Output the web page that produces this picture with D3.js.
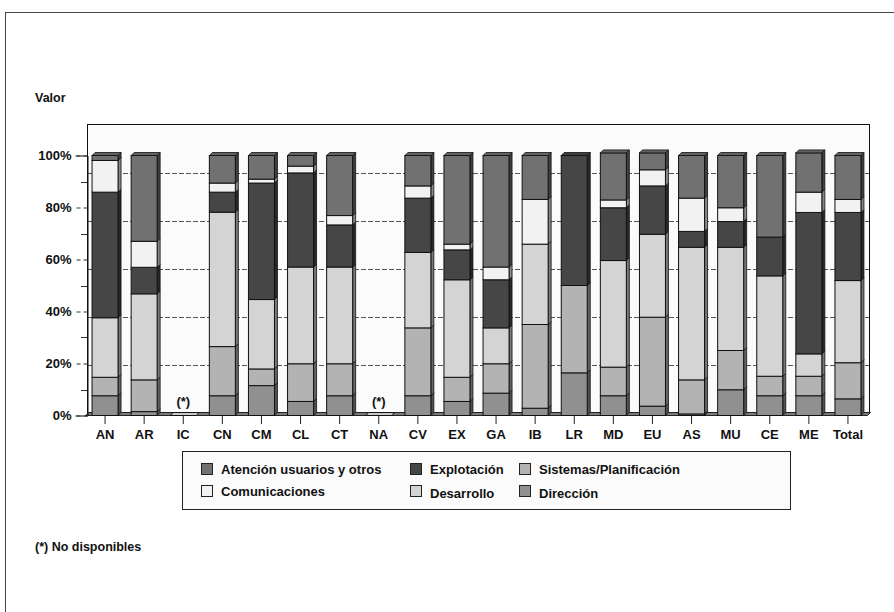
<!DOCTYPE html>
<html>
<head>
<meta charset="utf-8">
<script src="https://cdn.jsdelivr.net/npm/d3@7"></script>
<style>
  body { margin: 0; background: #fff; }
  text { font-family: "Liberation Sans", Arial, sans-serif; font-weight: bold; fill: #111; }
</style>
</head>
<body>
<div id="chart"></div>
<script>
// Stacked 3D-style columns: distribution by area (percent) per region

const categories = ["AN", "AR", "IC", "CN", "CM", "CL", "CT", "NA", "CV", "EX",
                    "GA", "IB", "LR", "MD", "EU", "AS", "MU", "CE", "ME", "Total"];

// stack order from bottom to top
const seriesNames = ["Dirección", "Sistemas/Planificación", "Desarrollo",
                     "Explotación", "Comunicaciones", "Atención usuarios y otros"];

// values in % (null = no disponible)
const direccion      = [7.6, 1.5, null, 7.6, 11.5, 5.4, 7.6, null, 7.6, 5.4, 8.6, 2.8, 16.4, 7.6, 3.6, 0.6, 9.9, 7.6, 7.6, 6.4];
const sistemas       = [7.1, 12.2, null, 18.9, 6.4, 14.5, 12.3, null, 26.1, 9.3, 11.3, 32.2, 33.6, 11, 34.2, 13.1, 15.1, 7.5, 7.5, 13.9];
const desarrollo     = [22.9, 33.1, null, 51.7, 26.7, 37.2, 37.2, null, 29, 37.5, 13.8, 30.9, 0, 41, 31.9, 51, 39.7, 38.6, 8.6, 31.6];
const explotacion    = [48.3, 10.2, null, 7.7, 44.8, 36.2, 16.2, null, 20.9, 11.5, 18.5, 0, 50, 20.3, 18.6, 6.1, 9.9, 14.9, 54.4, 26.2];
const comunicaciones = [12.2, 10, null, 3.5, 1.5, 2.6, 3.6, null, 4.7, 2.2, 4.9, 17.2, 0, 3, 6.2, 12.8, 5.3, 0, 7.8, 5];
const atencion       = [1.9, 33, null, 10.6, 9.1, 4.1, 23.1, null, 11.7, 34.1, 42.9, 16.9, 0, 18.1, 6.5, 16.4, 20.1, 31.4, 15.1, 16.9];

const yTicks = [0, 20, 40, 60, 80, 100];
const yMinorTicks = [10, 30, 50, 70, 90];
const gridValues = [20, 40, 60, 80, 100];

// legend layout order (row by row)
const legendOrder = ["Atención usuarios y otros", "Explotación", "Sistemas/Planificación",
                     "Comunicaciones", "Desarrollo", "Dirección"];

const colors = {
  "Dirección": "#909090",
  "Sistemas/Planificación": "#b3b3b3",
  "Desarrollo": "#d4d4d4",
  "Explotación": "#464646",
  "Comunicaciones": "#f2f2f2",
  "Atención usuarios y otros": "#717171"
};

const seriesValues = [direccion, sistemas, desarrollo, explotacion, comunicaciones, atencion];

const W = 894, H = 612;
const depth = 3;

const svg = d3.select("#chart").append("svg")
  .attr("width", W).attr("height", H);

// outer border
svg.append("rect")
  .attr("x", 5.5).attr("y", 12.5).attr("width", 900).attr("height", 620)
  .attr("fill", "#fff").attr("stroke", "#444");

// scales
const x = d3.scaleBand()
  .domain(categories)
  .range([85.5, 867.5])
  .paddingInner(0.335)
  .paddingOuter(0.1675);

const y = d3.scaleLinear().domain([0, 100]).range([415.5, 155.5]);
// back wall scale for the dashed grid
const yWall = d3.scaleLinear().domain([0, 100]).range([413.5, 172.5]);

// plot frame
svg.append("rect")
  .attr("x", 87.5).attr("y", 124.5)
  .attr("width", 782).attr("height", 289)
  .attr("fill", "#fbfbfb").attr("stroke", "#111");

// dashed grid on back wall
svg.append("g").selectAll("line")
  .data(gridValues)
  .enter().append("line")
  .attr("x1", 88).attr("x2", 869)
  .attr("y1", d => Math.round(yWall(d)) + 0.5)
  .attr("y2", d => Math.round(yWall(d)) + 0.5)
  .attr("stroke", "#555")
  .attr("stroke-dasharray", "5,2");

// floor strip
svg.append("path")
  .attr("d", `M85.5,415.5 L867.5,415.5 L870.5,412.5 L88.5,412.5 Z`)
  .attr("fill", "#7a7a7a").attr("stroke", "#222");

// y axis
const yAxis = svg.append("g")
  .attr("transform", "translate(87.5,0)")
  .call(d3.axisLeft(y).tickValues(yTicks).tickSize(12).tickFormat(d => d + "%"));
yAxis.select(".domain").attr("stroke", "#111");
yAxis.selectAll(".tick line").attr("stroke", "#333").attr("stroke-dasharray", "4,3");
yAxis.selectAll(".tick text")
  .attr("x", -16)
  .style("font-size", "13px")
  .style("font-family", "Liberation Sans, Arial, sans-serif")
  .style("font-weight", "bold")
  .attr("fill", "#111");

svg.append("g").selectAll("line")
  .data(yMinorTicks)
  .enter().append("line")
  .attr("x1", 81).attr("x2", 87)
  .attr("y1", d => Math.round(y(d)) + 0.5)
  .attr("y2", d => Math.round(y(d)) + 0.5)
  .attr("stroke", "#333");

// x axis
const xAxis = svg.append("g")
  .attr("transform", "translate(0,416)")
  .call(d3.axisBottom(x).tickSize(8).tickPadding(6));
xAxis.select(".domain").remove();
xAxis.selectAll(".tick line").attr("stroke", "#222");
xAxis.selectAll(".tick text")
  .style("font-size", "13px")
  .style("font-family", "Liberation Sans, Arial, sans-serif")
  .style("font-weight", "bold")
  .attr("fill", "#111");

// bars
const bars = svg.append("g");
categories.forEach((cat, i) => {
  const x0 = x(cat), w = x.bandwidth();
  const g = bars.append("g");

  if (seriesValues[0][i] === null) {
    // no data: flat box + (*) note
    g.append("path")
      .attr("d", `M${x0},${y(0)} L${x0 + w},${y(0)} L${x0 + w + depth},${y(0) - depth} L${x0 + depth},${y(0) - depth} Z`)
      .attr("fill", "#c8c8c8").attr("stroke", "#111");
    g.append("text")
      .attr("x", x0 + w / 2).attr("y", 406)
      .attr("text-anchor", "middle")
      .style("font-size", "13px")
      .text("(*)");
    return;
  }

  let cum = 0;
  const segs = [];
  seriesNames.forEach((name, s) => {
    const v = seriesValues[s][i];
    if (v > 0) {
      segs.push({ name, y0: cum, y1: cum + v });
      cum += v;
    }
  });

  segs.forEach(sg => {
    const c = colors[sg.name];
    // side face
    g.append("path")
      .attr("d", `M${x0 + w},${y(sg.y1)} L${x0 + w + depth},${y(sg.y1) - depth} L${x0 + w + depth},${y(sg.y0) - depth} L${x0 + w},${y(sg.y0)} Z`)
      .attr("fill", d3.color(c).darker(1.6)).attr("stroke", "#111").attr("stroke-width", 0.8);
    // front face
    g.append("rect")
      .attr("x", x0).attr("y", y(sg.y1))
      .attr("width", w).attr("height", y(sg.y0) - y(sg.y1))
      .attr("fill", c).attr("stroke", "#111").attr("stroke-width", 1);
  });

  // top face
  const top = segs[segs.length - 1];
  g.append("path")
    .attr("d", `M${x0},${y(top.y1)} L${x0 + w},${y(top.y1)} L${x0 + w + depth},${y(top.y1) - depth} L${x0 + depth},${y(top.y1) - depth} Z`)
    .attr("fill", d3.color(colors[top.name]).darker(0.4)).attr("stroke", "#111").attr("stroke-width", 0.8);
});

// "Valor" label
svg.append("text")
  .attr("x", 35).attr("y", 102)
  .style("font-size", "12.5px")
  .text("Valor");

// legend
const legend = svg.append("g");
legend.append("rect")
  .attr("x", 182.5).attr("y", 451.5).attr("width", 608).attr("height", 58)
  .attr("fill", "#fbfbfb").attr("stroke", "#222");

const legendCols = [201, 410, 519];
const legendRows = [463, 485];
legendOrder.forEach((name, k) => {
  const cx = legendCols[k % 3], ry = legendRows[Math.floor(k / 3)];
  legend.append("rect")
    .attr("x", cx + 0.5).attr("y", ry + 0.5)
    .attr("width", 11).attr("height", 11)
    .attr("fill", colors[name]).attr("stroke", "#222");
  legend.append("text")
    .attr("x", cx + 20).attr("y", ry + 11 + (k >= 3 && k % 3 !== 0 ? 1.5 : 0))
    .style("font-size", "13px")
    .text(name);
});

// footnote
svg.append("text")
  .attr("x", 35).attr("y", 551)
  .style("font-size", "12.5px")
  .text("(*) No disponibles");
</script>
</body>
</html>
